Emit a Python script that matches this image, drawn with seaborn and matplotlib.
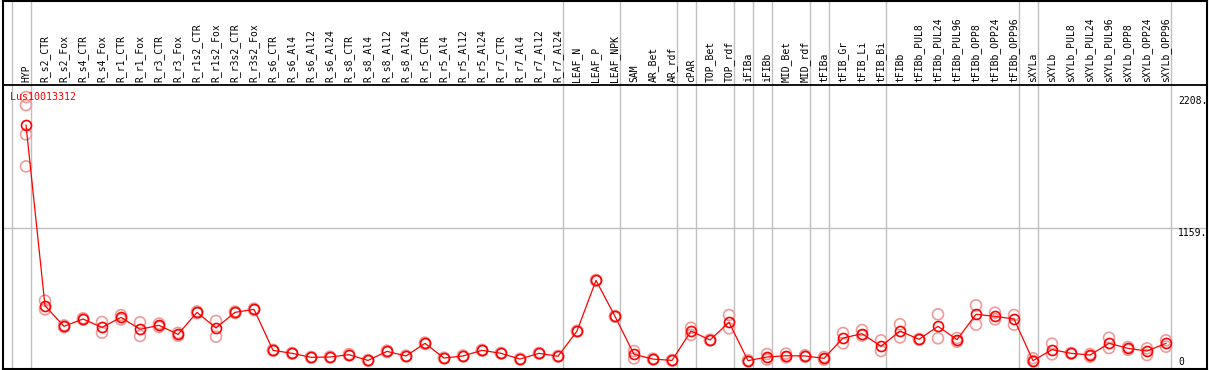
import matplotlib
matplotlib.use("Agg")
import matplotlib.pyplot as plt
import seaborn as sns
import pandas as pd
import numpy as np

categories = [
    "HYP", "R_s2_CTR", "R_s2_Fox", "R_s4_CTR", "R_s4_Fox", "R_r1_CTR", "R_r1_Fox",
    "R_r3_CTR", "R_r3_Fox", "R_r1s2_CTR", "R_r1s2_Fox", "R_r3s2_CTR", "R_r3s2_Fox",
    "R_s6_CTR", "R_s6_Al4", "R_s6_Al12", "R_s6_Al24", "R_s8_CTR", "R_s8_Al4",
    "R_s8_Al12", "R_s8_Al24", "R_r5_CTR", "R_r5_Al4", "R_r5_Al12", "R_r5_Al24",
    "R_r7_CTR", "R_r7_Al4", "R_r7_Al12", "R_r7_Al24", "LEAF_N", "LEAF_P", "LEAF_NPK",
    "SAM", "AR_Bet", "AR_rdf", "cPAR", "TOP_Bet", "TOP_rdf", "iFIBa", "iFIBb",
    "MID_Bet", "MID_rdf", "tFIBa", "tFIB_Gr", "tFIB_Li", "tFIB_Bi", "tFIBb",
    "tFIBb_PUL8", "tFIBb_PUL24", "tFIBb_PUL96", "tFIBb_OPP8", "tFIBb_OPP24",
    "tFIBb_OPP96", "sXYLa", "sXYLb", "sXYLb_PUL8", "sXYLb_PUL24", "sXYLb_PUL96",
    "sXYLb_OPP8", "sXYLb_OPP24", "sXYLb_OPP96",
]

mean_values = [
    2056, 482, 302, 366, 293, 380, 276, 311, 232, 424, 288, 424, 450,
    93, 67, 32, 35, 55, 5, 84, 44, 154, 26, 44, 93, 67, 17, 67, 41,
    261, 703, 389, 58, 17, 5, 261, 183, 337, 3, 35, 46, 44, 23, 200, 238,
    128, 261, 189, 302, 186, 407, 389, 366, 3, 99, 67, 52, 154, 110, 87, 154,
]

rep_a = [
    2230, 526, 310, 372, 340, 400, 337, 326, 245, 432, 349, 430, 456,
    97, 70, 35, 38, 60, 8, 90, 47, 160, 29, 48, 97, 70, 20, 70, 44,
    264, 706, 392, 87, 20, 8, 290, 186, 401, 6, 61, 64, 50, 35, 244, 270,
    180, 320, 192, 407, 200, 485, 421, 401, 24, 151, 70, 61, 203, 122, 110, 180,
]

rep_b = [
    1975, 450, 295, 360, 247, 362, 218, 296, 220, 416, 212, 418, 444,
    89, 64, 29, 32, 50, 2, 78, 41, 148, 23, 40, 89, 64, 14, 64, 38,
    258, 700, 386, 23, 14, 2, 227, 180, 285, 0, 12, 32, 38, 12, 154, 221,
    87, 205, 186, 198, 168, 317, 363, 317, 0, 58, 64, 38, 113, 98, 52, 125,
]

extra_rep_cats = ["HYP", "HYP"]
extra_rep_vals = [2300, 1696]

gene_label = "Lus10013312"
ytick_values = [2208, 1159, 0]
ytick_texts = ["2208.", "1159.", "0"]
group_ends = ["", "HYP", "R_r7_Al24", "LEAF_NPK", "AR_rdf", "cPAR", "TOP_rdf",
              "iFIBa", "iFIBb", "MID_rdf", "tFIBa", "tFIB_Bi", "tFIBb_OPP96",
              "sXYLa", "sXYLb_OPP96"]

# ---- build tables ----
idx = {c: i for i, c in enumerate(categories)}
df_mean = pd.DataFrame({"x": np.arange(len(categories)), "y": mean_values})
rep_x = list(range(len(categories))) * 2 + [idx[c] for c in extra_rep_cats]
rep_y = rep_a + rep_b + extra_rep_vals
df_rep = pd.DataFrame({"x": rep_x, "y": rep_y})

# ---- figure ----
W, H = 1209, 370
fig = plt.figure(figsize=(W / 100, H / 100), dpi=100)
# pixel geometry
px_left, px_right, px_top, px_bot = 2.5, 1207.0, 0.5, 368.5
ax = fig.add_axes([px_left / W, (H - px_bot) / H, (px_right - px_left) / W, (px_bot - px_top) / H])

x0_px, dx_px = 26.0, 19.0
y0_px, sy = 361.0, 0.11476
ax.set_xlim((px_left - x0_px) / dx_px, (px_right - x0_px) / dx_px)
ax.set_ylim(-(px_bot - y0_px) / sy, (y0_px - px_top) / sy)

def yval(py):
    return (y0_px - py) / sy

def xval(px):
    return (px - x0_px) / dx_px

grey = "#c0c0c0"
# vertical group separators
for g in group_ends:
    pos = (idx[g] if g else -1) + 0.24
    ax.axvline(pos, color=grey, lw=1.0, zorder=1)
# horizontal gridline
ax.axhline(1159, color=grey, lw=1.0, zorder=1)
# header separator
ax.axhline(yval(85), color="black", lw=1.3, zorder=2)

mono = "DejaVu Sans Mono"
for i, c in enumerate(categories):
    ax.text(i, yval(82.5), c, rotation=90, ha="center", va="bottom",
            fontsize=7, family=mono, color="black", zorder=3)

# replicates
sns.scatterplot(data=df_rep, x="x", y="y", ax=ax, marker="o", s=62,
                facecolors="none", edgecolor="#f09a9a", linewidth=1.2,
                zorder=4, legend=False)
# means
sns.lineplot(data=df_mean, x="x", y="y", ax=ax, estimator=None, sort=False,
             color="#ff0000", linewidth=0.9, marker="o", markersize=7.2,
             markerfacecolor="none", markeredgecolor="#ff0000",
             markeredgewidth=1.2, zorder=5, legend=False)

ax.text(xval(10), yval(97), gene_label, color="#ff0000", fontsize=7.2,
        family=mono, ha="left", va="center", zorder=6)

tick_px = {2208: 101.5, 1159: 232.5, 0: 362.0}
for v, t in zip(ytick_values, ytick_texts):
    ax.text(xval(1178), yval(tick_px[v]), t, fontsize=7, family=mono,
            ha="left", va="center", color="black", zorder=6)

ax.set_xticks([])
ax.set_yticks([])
ax.set_xlabel("")
ax.set_ylabel("")
for s in ax.spines.values():
    s.set_color("black")
    s.set_linewidth(1.5)

fig.savefig("out.png", dpi=100)
